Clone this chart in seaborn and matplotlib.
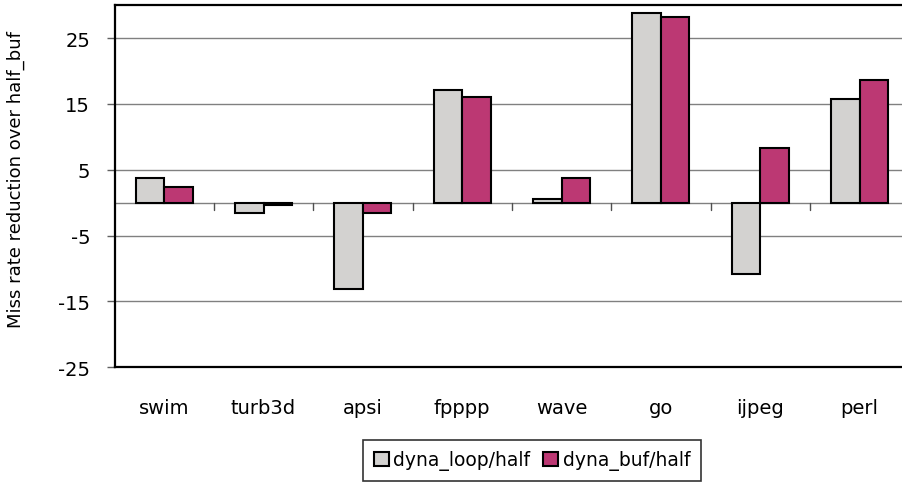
import pandas as pd
import matplotlib
matplotlib.use("Agg")
import matplotlib.pyplot as plt
import seaborn as sns

# Values
benchmarks = ['swim', 'turb3d', 'apsi', 'fpppp', 'wave', 'go', 'ijpeg', 'perl']
dyna_loop = [3.7, -1.6, -13.2, 17.2, 0.6, 28.8, -10.8, 15.7]
dyna_buf = [2.4, -0.4, -1.6, 16.0, 3.7, 28.2, 8.3, 18.7]
series_names = ['dyna_loop/half', 'dyna_buf/half']
y_ticks = [-25, -15, -5, 5, 15, 25]

df = pd.DataFrame({
    'benchmark': benchmarks * 2,
    'value': dyna_loop + dyna_buf,
    'series': [series_names[0]] * len(benchmarks) + [series_names[1]] * len(benchmarks),
})

sns.set_style("white")
plt.rcParams['font.family'] = ['DejaVu Sans']
plt.rcParams.update({'text.color': 'black', 'axes.labelcolor': 'black'})

colors = {series_names[0]: '#D3D2D0', series_names[1]: '#BC3873'}

fig = plt.figure(figsize=(9.02, 4.85), dpi=100)
ax = fig.add_axes([0.127, 0.241, 0.881, 0.746])

sns.barplot(data=df, x='benchmark', y='value', hue='series', order=benchmarks,
            hue_order=series_names, palette=colors, saturation=1, width=0.575,
            edgecolor='black', linewidth=1.5, errorbar=None, ax=ax, zorder=3)

ax.set_ylim(-25, 30)
ax.set_xlim(-0.5, len(benchmarks) - 0.5)
ax.set_yticks(y_ticks)
ax.set_yticklabels([str(t) for t in y_ticks])
ax.yaxis.grid(True, color='#808080', linewidth=1)
ax.set_axisbelow(True)
ax.axhline(0, color='#808080', linewidth=1, zorder=1)

# category-axis ticks hanging from the zero line (Excel style)
for i in range(len(benchmarks) - 1):
    ax.plot([i + 0.5, i + 0.5], [0, -1.15], color='#505050', linewidth=1, zorder=1)

ax.tick_params(axis='y', which='major', left=True, length=5.5, width=1,
               color='#606060', labelcolor='black', labelsize=14, pad=12)
ax.tick_params(axis='x', which='major', bottom=False, length=0,
               labelcolor='black', labelsize=14, pad=22)

for side in ['left', 'bottom', 'top']:
    ax.spines[side].set_visible(True)
    ax.spines[side].set_color('black')
    ax.spines[side].set_linewidth(1.6)
ax.spines['right'].set_visible(False)

ax.set_xlabel('')
ax.set_ylabel('Miss rate reduction over half_buf', fontsize=13)
ax.yaxis.set_label_coords(-0.113, 0.52)

ax.get_legend().remove()
handles, labels = ax.get_legend_handles_labels()
leg = fig.legend(handles, labels, loc='center', bbox_to_anchor=(0.590, 0.0485),
                 ncol=2, fontsize=13.5, frameon=True, fancybox=False,
                 edgecolor='black', handlelength=0.8, handleheight=0.8,
                 handletextpad=0.25, columnspacing=0.7, borderpad=0.55,
                 borderaxespad=0)
leg.get_frame().set_linewidth(1.2)

fig.savefig('out.png', dpi=100)
